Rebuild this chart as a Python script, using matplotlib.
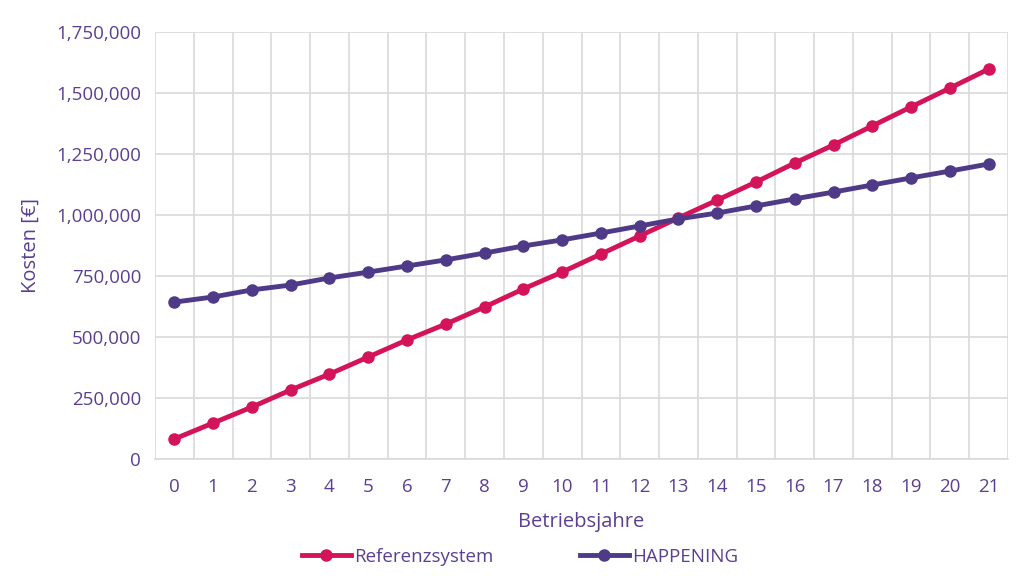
import matplotlib
matplotlib.use("Agg")
import matplotlib.pyplot as plt
from matplotlib.ticker import FuncFormatter, MultipleLocator

years = list(range(22))
referenz = [82000, 147500, 213000, 283000, 348000, 418000, 488000, 553000, 623000, 697000,
            766000, 840000, 914000, 988000, 1061000, 1135000, 1213000, 1287000, 1365000,
            1443000, 1520000, 1598000]
happening = [643000, 664000, 693000, 713000, 742000, 766000, 791000, 816000, 844000, 873000,
             898000, 926000, 955000, 984000, 1008000, 1037000, 1066000, 1094000, 1123000,
             1152000, 1180000, 1209000]
series_names = ["Referenzsystem", "HAPPENING"]

pink = "#D4145A"
purple = "#4F3A88"
text_c = "#5B3F91"
grid_c = "#D9D9D9"

plt.rcParams['font.family'] = ['Open Sans', 'DejaVu Sans']

fig = plt.figure(figsize=(10.24, 5.76), dpi=100)
ax = fig.add_axes([155/1024, (576-459)/576, 853/1024, 427/576])

ax.plot(years, referenz, color=pink, lw=3.5, marker='o', ms=8, label=series_names[0], zorder=3)
ax.plot(years, happening, color=purple, lw=3.5, marker='o', ms=8, label=series_names[1], zorder=3)

ax.set_xlim(-0.5, 21.5)
ax.set_ylim(0, 1750000)
ax.set_xticks(years)
ax.set_xticks([y - 0.5 for y in years] + [21.5], minor=True)
ax.yaxis.set_major_locator(MultipleLocator(250000))
ax.yaxis.set_major_formatter(FuncFormatter(lambda v, p: f"{int(v):,}"))

ax.grid(True, which='minor', axis='x', color=grid_c, lw=1.2)
ax.grid(True, which='major', axis='y', color=grid_c, lw=1.2)
ax.set_axisbelow(True)
for s in ax.spines.values():
    s.set_visible(False)
ax.spines['bottom'].set_visible(True)
ax.spines['bottom'].set_color(grid_c)
ax.spines['bottom'].set_linewidth(1.2)

ax.tick_params(axis='both', which='both', length=0, colors=text_c, labelsize=13.5)
ax.tick_params(axis='x', pad=14)
ax.tick_params(axis='y', pad=10)

ax.set_xlabel("Betriebsjahre", color=text_c, fontsize=14.5, labelpad=11)
ax.set_ylabel("Kosten [€]", color=text_c, fontsize=14.5, labelpad=11)

leg = fig.legend(loc='center', bbox_to_anchor=(0.508, 1 - 557/576), ncol=2, frameon=False,
                 fontsize=13.5, handlelength=2.6, handletextpad=0.2, columnspacing=4.6,
                 labelcolor=text_c)

fig.savefig("out.png", dpi=100)
